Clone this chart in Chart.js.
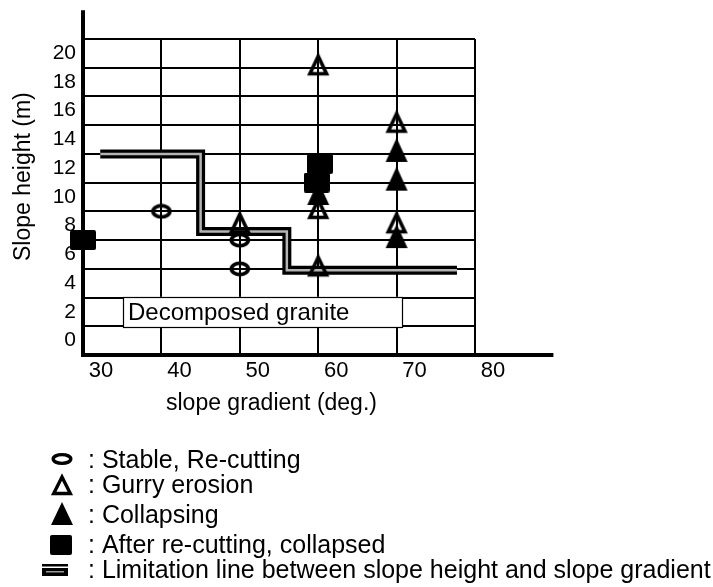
<!DOCTYPE html>
<html>
<head>
<meta charset="utf-8">
<title>Slope height vs slope gradient</title>
<script src="https://cdn.jsdelivr.net/npm/chart.js@4.4.1/dist/chart.umd.min.js"></script>
<style>
  html, body { margin: 0; padding: 0; background: #fff; }
  #wrap { position: relative; width: 713px; height: 587px; }
</style>
</head>
<body>
<div id="wrap"><canvas id="c" width="713" height="587"></canvas></div>
<script>
const FONT = "'Liberation Sans', Arial, Helvetica, sans-serif";

// Slope gradient (deg.) grid values and their labels
const xTickValues = [30, 40, 50, 60, 70, 80];
const xTickLabels = ['30', '40', '50', '60', '70', '80'];
// Slope height (m) grid values; labels sit midway between grid lines
const yTickValues = [-1, 1, 3, 5, 7, 9, 11, 13, 15, 17, 19, 21];
const yTickLabels = ['0', '2', '4', '6', '8', '10', '12', '14', '16', '18', '20', ''];

// Stable, Re-cutting
const stableX = [40, 50, 50];
const stableY = [9, 7, 5];
// Gurry erosion
const gurryX = [50, 60, 60, 60, 70, 70];
const gurryY = [8, 19, 9, 5, 15, 8];
// Collapsing
const collapseX = [60, 70, 70, 70];
const collapseY = [10, 13, 11, 7];
// After re-cutting, collapsed
const recutX = [30, 60.2, 59.8];
const recutY = [7, 12.3, 11];
// Limitation line between slope height and slope gradient
const limitX = [32.2, 45, 45, 56, 56, 77.7];
const limitY = [13, 13, 7.6, 7.6, 4.9, 4.9];

const legendLabels = [
  ': Stable, Re-cutting',
  ': Gurry erosion',
  ': Collapsing',
  ': After re-cutting, collapsed',
  ': Limitation line between slope height and slope gradient'
];
const boxLabel = 'Decomposed granite';
const xTitle = 'slope gradient (deg.)';
const yTitle = 'Slope height (m)';

// ---- marker images -------------------------------------------------------
function makeMarker(w, h, draw) {
  const c = document.createElement('canvas');
  c.width = w; c.height = h;
  draw(c.getContext('2d'));
  return c;
}
function strokeRing(g, cx, cy, rx, ry, lw) {
  g.lineWidth = lw; g.strokeStyle = '#000';
  g.beginPath(); g.ellipse(cx, cy, rx, ry, 0, 0, Math.PI * 2); g.stroke();
}
function triPath(g, cx, top, bottom, half) {
  g.beginPath();
  g.moveTo(cx, top);
  g.lineTo(cx + half, bottom);
  g.lineTo(cx - half, bottom);
  g.closePath();
}
// ellipse marker, centred
const ringMarker = makeMarker(22, 16, g => strokeRing(g, 11, 8, 8.4, 5.6, 3.8));
// open triangle, centroid at canvas centre
const openTriMarker = makeMarker(24, 31, g => {
  g.lineWidth = 3.6; g.strokeStyle = '#000'; g.lineJoin = 'miter'; g.miterLimit = 3;
  triPath(g, 12, 4, 21.5, 8.3); g.stroke();
});
// filled triangle, centroid at canvas centre
const fillTriMarker = makeMarker(24, 32, g => {
  g.fillStyle = '#000'; triPath(g, 12, 0, 24, 11); g.fill();
});
// filled square
const squareMarker = makeMarker(26, 20, g => {
  g.fillStyle = '#000';
  g.beginPath(); g.roundRect(0, 0, 26, 20, 2); g.fill();
});

function pts(xs, ys) { return xs.map((x, i) => ({ x, y: ys[i] })); }
function markerSet(label, xs, ys, marker, order) {
  return {
    label, data: pts(xs, ys), pointStyle: marker,
    pointRadius: 10, pointHoverRadius: 10, showLine: false, clip: false, order
  };
}

// ---- decorations: axis extensions, annotation box, titles, key ----------
const decor = {
  id: 'decor',
  beforeDatasetsDraw(chart) {
    const { ctx, scales: { x, y } } = chart;
    ctx.save();
    // axis lines run past the grid
    ctx.strokeStyle = '#000'; ctx.lineWidth = 4; ctx.lineCap = 'butt';
    ctx.beginPath();
    ctx.moveTo(x.getPixelForValue(30), y.getPixelForValue(-1));
    ctx.lineTo(x.getPixelForValue(30), y.getPixelForValue(23));
    ctx.moveTo(x.getPixelForValue(30) - 2, y.getPixelForValue(-1));
    ctx.lineTo(x.getPixelForValue(90), y.getPixelForValue(-1));
    ctx.stroke();
    // soil type box
    const l = x.getPixelForValue(35.1), r = x.getPixelForValue(70.7);
    const t = y.getPixelForValue(3.05), b = y.getPixelForValue(0.95);
    ctx.fillStyle = '#fff';
    ctx.fillRect(l, t, r - l, b - t);
    ctx.strokeStyle = '#000'; ctx.lineWidth = 1.2;
    ctx.strokeRect(Math.round(l) + 0.5, Math.round(t) + 0.5, Math.round(r - l), Math.round(b - t));
    ctx.fillStyle = '#000';
    ctx.font = '24px ' + FONT;
    ctx.textAlign = 'left'; ctx.textBaseline = 'alphabetic';
    ctx.fillText(boxLabel, l + 5, b - 7);
    ctx.restore();
  },
  afterDraw(chart) {
    const ctx = chart.ctx;
    ctx.save();
    ctx.fillStyle = '#000';
    ctx.textAlign = 'left'; ctx.textBaseline = 'alphabetic';
    // axis titles
    ctx.font = '23px ' + FONT;
    ctx.fillText(xTitle, 166, 410);
    ctx.save();
    ctx.translate(29.5, 261);
    ctx.rotate(-Math.PI / 2);
    ctx.fillText(yTitle, 0, 0);
    ctx.restore();

    // key
    strokeRing(ctx, 62, 459, 8.8, 4.4, 3.4);
    ctx.lineWidth = 3.4; ctx.strokeStyle = '#000'; ctx.lineJoin = 'miter'; ctx.miterLimit = 3;
    triPath(ctx, 62, 477, 493.5, 8.3); ctx.stroke();
    triPath(ctx, 62, 502, 525, 11); ctx.fill();
    ctx.beginPath(); ctx.roundRect(50, 535, 22, 20, 2); ctx.fill();
    ctx.fillRect(42, 564, 26, 12);
    ctx.fillStyle = '#fff';
    ctx.fillRect(42, 566.5, 26, 1.5);
    ctx.fillStyle = '#999';
    ctx.fillRect(46, 571, 18, 1.5);
    ctx.fillStyle = '#000';
    ctx.font = '25px ' + FONT;
    const baselines = [468, 493, 523, 553, 578];
    legendLabels.forEach((txt, i) => ctx.fillText(txt, 88, baselines[i]));
    ctx.restore();
  }
};

const gridOpts = { color: '#000', lineWidth: 2, drawTicks: false };
const borderOpts = { display: true, color: '#000', width: 4 };

new Chart(document.getElementById('c'), {
  type: 'scatter',
  data: {
    datasets: [
      markerSet('After re-cutting, collapsed', recutX, recutY, squareMarker, 1),
      markerSet('Gurry erosion', gurryX, gurryY, openTriMarker, 2),
      markerSet('Collapsing', collapseX, collapseY, fillTriMarker, 3),
      markerSet('Stable, Re-cutting', stableX, stableY, ringMarker, 4),
      {
        label: 'Limitation line', data: pts(limitX, limitY), showLine: true,
        borderColor: '#b4b4b4', borderWidth: 2.5, pointRadius: 0, tension: 0,
        borderJoinStyle: 'miter', borderCapStyle: 'butt', clip: false, order: 9
      },
      {
        label: 'Limitation line outline', data: pts(limitX, limitY), showLine: true,
        borderColor: '#000', borderWidth: 9, pointRadius: 0, tension: 0,
        borderJoinStyle: 'miter', borderCapStyle: 'butt', clip: false, order: 10
      }
    ]
  },
  options: {
    responsive: false,
    animation: false,
    devicePixelRatio: 1,
    events: [],
    layout: { padding: { left: 0, top: 39, right: 238, bottom: 192 } },
    plugins: { legend: { display: false }, tooltip: { enabled: false } },
    scales: {
      x: {
        type: 'linear', min: 30, max: 80,
        afterBuildTicks: s => { s.ticks = xTickValues.map(v => ({ value: v })); },
        afterFit: s => { s.height = 40; },
        grid: gridOpts, border: borderOpts,
        ticks: {
          callback: (v, i) => xTickLabels[i],
          labelOffset: 18, padding: 3, color: '#000', autoSkip: false, maxRotation: 0,
          font: { family: FONT, size: 22 }
        }
      },
      y: {
        type: 'linear', min: -1, max: 21,
        afterBuildTicks: s => { s.ticks = yTickValues.map(v => ({ value: v })); },
        afterFit: s => { s.width = 83; },
        grid: gridOpts, border: borderOpts,
        ticks: {
          callback: (v, i) => yTickLabels[i],
          labelOffset: -14.5, padding: 7, color: '#000', autoSkip: false,
          font: { family: FONT, size: 21 }
        }
      }
    }
  },
  plugins: [decor]
});
</script>
</body>
</html>
